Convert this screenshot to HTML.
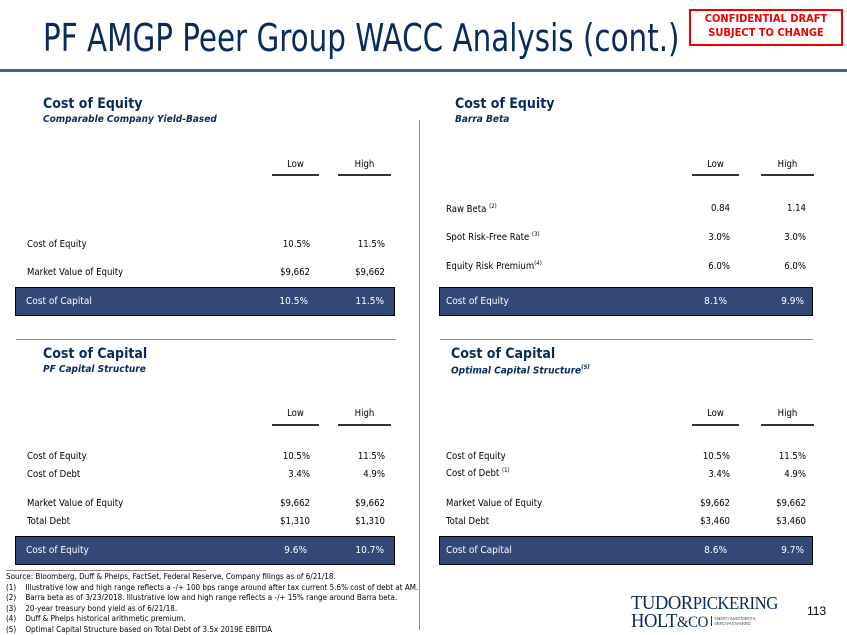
<!DOCTYPE html>
<html><head><meta charset="utf-8"><style>
body{margin:0;width:847px;height:635px;background:#fff;position:relative;overflow:hidden;font-family:"DejaVu Sans Condensed","Liberation Sans Narrow","Liberation Sans",sans-serif;color:#000}
.a{position:absolute;white-space:nowrap}
.h{font-size:14px;font-weight:bold;color:#0b2a5c}
.s{font-size:10px;font-style:italic;font-weight:bold;color:#0b2a5c}
.t{font-size:9.5px}
.r{text-align:right}
.c{text-align:center}
.ul{position:absolute;height:1.5px;background:#333}
.bar{position:absolute;height:27px;background:#344878;border:1.5px solid #000;color:#fff;font-size:10px}
.bar span{position:absolute;top:8px}
.f{font-size:8px}
sup{font-size:6px}
</style></head><body>
<div class="a" style="left:43px;top:16px;font-size:38px;color:#0b2a5c;transform:scaleX(0.86);transform-origin:0 0">PF AMGP Peer Group WACC Analysis (cont.)</div>
<div class="a c" style="left:689px;top:9px;width:150px;height:32px;border:2px solid #e00;color:#e00;font-size:11px;font-weight:bold;line-height:14px;padding-top:1px;background:#fff">CONFIDENTIAL DRAFT<br>SUBJECT TO CHANGE</div>
<div class="a" style="left:0;top:69px;width:847px;height:3px;background:#41628f"></div>
<div class="a" style="left:419px;top:120px;width:1px;height:510px;background:#8090b0"></div>
<div class="a" style="left:16px;top:339px;width:380px;height:1px;background:#8090b0"></div>
<div class="a" style="left:440px;top:339px;width:373px;height:1px;background:#8090b0"></div>

<div class="a h" style="left:43px;top:96px">Cost of Equity</div>
<div class="a s" style="left:43px;top:114px">Comparable Company Yield-Based</div>
<div class="a t c" style="left:272px;top:159px;width:47px">Low</div>
<div class="a t c" style="left:338px;top:159px;width:53px">High</div>
<div class="ul" style="left:272px;top:174px;width:47px"></div>
<div class="ul" style="left:338px;top:174px;width:53px"></div>
<div class="a t" style="left:27px;top:239px">Cost of Equity</div>
<div class="a t r" style="left:240px;top:239px;width:70px">10.5%</div>
<div class="a t r" style="left:315px;top:239px;width:70px">11.5%</div>
<div class="a t" style="left:27px;top:267px">Market Value of Equity</div>
<div class="a t r" style="left:240px;top:267px;width:70px">$9,662</div>
<div class="a t r" style="left:315px;top:267px;width:70px">$9,662</div>
<div class="bar" style="left:15px;top:287px;width:378px"><span style="left:10px">Cost of Capital</span><span style="right:86px">10.5%</span><span style="right:10px">11.5%</span></div>

<div class="a h" style="left:455px;top:96px">Cost of Equity</div>
<div class="a s" style="left:455px;top:114px">Barra Beta</div>
<div class="a t c" style="left:692px;top:159px;width:47px">Low</div>
<div class="a t c" style="left:761px;top:159px;width:53px">High</div>
<div class="ul" style="left:692px;top:174px;width:47px"></div>
<div class="ul" style="left:761px;top:174px;width:53px"></div>
<div class="a t" style="left:446px;top:203px">Raw Beta <sup>(2)</sup></div>
<div class="a t r" style="left:660px;top:203px;width:70px">0.84</div>
<div class="a t r" style="left:736px;top:203px;width:70px">1.14</div>
<div class="a t" style="left:446px;top:231px">Spot Risk-Free Rate <sup>(3)</sup></div>
<div class="a t r" style="left:660px;top:232px;width:70px">3.0%</div>
<div class="a t r" style="left:736px;top:232px;width:70px">3.0%</div>
<div class="a t" style="left:446px;top:260px">Equity Risk Premium<sup>(4)</sup></div>
<div class="a t r" style="left:660px;top:261px;width:70px">6.0%</div>
<div class="a t r" style="left:736px;top:261px;width:70px">6.0%</div>
<div class="bar" style="left:439px;top:287px;width:372px"><span style="left:6px">Cost of Equity</span><span style="right:85px">8.1%</span><span style="right:8px">9.9%</span></div>

<div class="a h" style="left:43px;top:346px">Cost of Capital</div>
<div class="a s" style="left:43px;top:364px">PF Capital Structure</div>
<div class="a t c" style="left:272px;top:408px;width:47px">Low</div>
<div class="a t c" style="left:338px;top:408px;width:53px">High</div>
<div class="ul" style="left:272px;top:424px;width:47px"></div>
<div class="ul" style="left:338px;top:424px;width:53px"></div>
<div class="a t" style="left:27px;top:451px">Cost of Equity</div>
<div class="a t r" style="left:240px;top:451px;width:70px">10.5%</div>
<div class="a t r" style="left:315px;top:451px;width:70px">11.5%</div>
<div class="a t" style="left:27px;top:469px">Cost of Debt</div>
<div class="a t r" style="left:240px;top:469px;width:70px">3.4%</div>
<div class="a t r" style="left:315px;top:469px;width:70px">4.9%</div>
<div class="a t" style="left:27px;top:498px">Market Value of Equity</div>
<div class="a t r" style="left:240px;top:498px;width:70px">$9,662</div>
<div class="a t r" style="left:315px;top:498px;width:70px">$9,662</div>
<div class="a t" style="left:27px;top:516px">Total Debt</div>
<div class="a t r" style="left:240px;top:516px;width:70px">$1,310</div>
<div class="a t r" style="left:315px;top:516px;width:70px">$1,310</div>
<div class="bar" style="left:15px;top:536px;width:378px"><span style="left:10px">Cost of Equity</span><span style="right:87px">9.6%</span><span style="right:10px">10.7%</span></div>

<div class="a h" style="left:451px;top:346px">Cost of Capital</div>
<div class="a s" style="left:451px;top:364px">Optimal Capital Structure<sup>(5)</sup></div>
<div class="a t c" style="left:692px;top:408px;width:47px">Low</div>
<div class="a t c" style="left:761px;top:408px;width:53px">High</div>
<div class="ul" style="left:692px;top:424px;width:47px"></div>
<div class="ul" style="left:761px;top:424px;width:53px"></div>
<div class="a t" style="left:446px;top:451px">Cost of Equity</div>
<div class="a t r" style="left:660px;top:451px;width:70px">10.5%</div>
<div class="a t r" style="left:736px;top:451px;width:70px">11.5%</div>
<div class="a t" style="left:446px;top:467px">Cost of Debt <sup>(1)</sup></div>
<div class="a t r" style="left:660px;top:469px;width:70px">3.4%</div>
<div class="a t r" style="left:736px;top:469px;width:70px">4.9%</div>
<div class="a t" style="left:446px;top:498px">Market Value of Equity</div>
<div class="a t r" style="left:660px;top:498px;width:70px">$9,662</div>
<div class="a t r" style="left:736px;top:498px;width:70px">$9,662</div>
<div class="a t" style="left:446px;top:516px">Total Debt</div>
<div class="a t r" style="left:660px;top:516px;width:70px">$3,460</div>
<div class="a t r" style="left:736px;top:516px;width:70px">$3,460</div>
<div class="bar" style="left:439px;top:536px;width:372px"><span style="left:6px">Cost of Capital</span><span style="right:85px">8.6%</span><span style="right:8px">9.7%</span></div>

<div class="a" style="left:6px;top:570px;width:200px;height:1px;background:#888"></div>
<div class="a f" style="left:6px;top:572px">Source: Bloomberg, Duff &amp; Phelps, FactSet, Federal Reserve, Company filings as of 6/21/18.</div>
<div class="a f" style="left:6px;top:582.5px">(1)&nbsp;&nbsp;&nbsp; Illustrative low and high range reflects a -/+ 100 bps range around after tax current 5.6% cost of debt at AM.</div>
<div class="a f" style="left:6px;top:593px">(2)&nbsp;&nbsp;&nbsp; Barra beta as of 3/23/2018. Illustrative low and high range reflects a -/+ 15% range around Barra beta.</div>
<div class="a f" style="left:6px;top:603.5px">(3)&nbsp;&nbsp;&nbsp; 20-year treasury bond yield as of 6/21/18.</div>
<div class="a f" style="left:6px;top:614px">(4)&nbsp;&nbsp;&nbsp; Duff &amp; Phelps historical arithmetic premium.</div>
<div class="a f" style="left:6px;top:624.5px">(5)&nbsp;&nbsp;&nbsp; Optimal Capital Structure based on Total Debt of 3.5x 2019E EBITDA</div>

<div class="a" style="left:631px;top:594px;font-family:'Liberation Serif',serif;color:#0b2a5c;line-height:18px;transform:scaleX(0.93);transform-origin:0 0">
<div style="font-size:20px;letter-spacing:-0.5px">TUDOR<span style="font-size:18px">PICKERING</span></div>
<div style="font-size:20px;letter-spacing:-0.5px">HOLT<span style="font-size:16px">&amp;CO</span><span style="display:inline-block;border-left:1px solid #0b2a5c;margin-left:3px;padding-left:3px;font-family:'Liberation Sans',sans-serif;font-size:4.5px;line-height:5px;vertical-align:2px;color:#667">ENERGY INVESTMENT &amp;<br>MERCHANT BANKING</span></div>
</div>
<div class="a" style="left:807px;top:604px;font-size:12px;font-family:'Liberation Sans',sans-serif">113</div>
</body></html>
